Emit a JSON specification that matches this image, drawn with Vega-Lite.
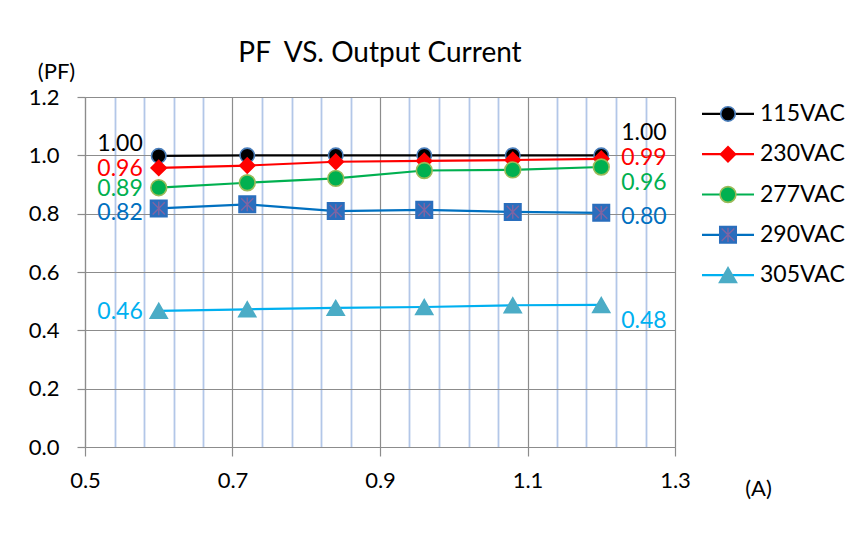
{
  "$schema": "https://vega.github.io/schema/vega-lite/v6.json",
  "background": "white",
  "padding": {"left": 28, "top": 40, "right": 2, "bottom": 20},
  "bounds": "flush",
  "spacing": 27,
  "config": {
    "view": {"stroke": null},
    "font": "Lato",
    "text": {"font": "Lato"}
  },
  "datasets": {
    "pf": [
      {"series": "115VAC", "x": 0.6, "pf": 0.998},
      {"series": "115VAC", "x": 0.72, "pf": 1.0},
      {"series": "115VAC", "x": 0.84, "pf": 1.0},
      {"series": "115VAC", "x": 0.96, "pf": 1.0},
      {"series": "115VAC", "x": 1.08, "pf": 1.0},
      {"series": "115VAC", "x": 1.2, "pf": 1.0},
      {"series": "230VAC", "x": 0.6, "pf": 0.957},
      {"series": "230VAC", "x": 0.72, "pf": 0.965},
      {"series": "230VAC", "x": 0.84, "pf": 0.978},
      {"series": "230VAC", "x": 0.96, "pf": 0.981},
      {"series": "230VAC", "x": 1.08, "pf": 0.984},
      {"series": "230VAC", "x": 1.2, "pf": 0.988},
      {"series": "277VAC", "x": 0.6, "pf": 0.889},
      {"series": "277VAC", "x": 0.72, "pf": 0.906},
      {"series": "277VAC", "x": 0.84, "pf": 0.921},
      {"series": "277VAC", "x": 0.96, "pf": 0.948},
      {"series": "277VAC", "x": 1.08, "pf": 0.95},
      {"series": "277VAC", "x": 1.2, "pf": 0.96},
      {"series": "290VAC", "x": 0.6, "pf": 0.818},
      {"series": "290VAC", "x": 0.72, "pf": 0.832},
      {"series": "290VAC", "x": 0.84, "pf": 0.809},
      {"series": "290VAC", "x": 0.96, "pf": 0.813},
      {"series": "290VAC", "x": 1.08, "pf": 0.806},
      {"series": "290VAC", "x": 1.2, "pf": 0.803},
      {"series": "305VAC", "x": 0.6, "pf": 0.467},
      {"series": "305VAC", "x": 0.72, "pf": 0.472},
      {"series": "305VAC", "x": 0.84, "pf": 0.477},
      {"series": "305VAC", "x": 0.96, "pf": 0.48},
      {"series": "305VAC", "x": 1.08, "pf": 0.486},
      {"series": "305VAC", "x": 1.2, "pf": 0.487}
    ],
    "labels": [
      {"series": "115VAC", "side": "left", "x": 0.6, "pf": 0.998, "text": "1.00"},
      {"series": "230VAC", "side": "left", "x": 0.6, "pf": 0.957, "text": "0.96"},
      {"series": "277VAC", "side": "left", "x": 0.6, "pf": 0.889, "text": "0.89"},
      {"series": "290VAC", "side": "left", "x": 0.6, "pf": 0.818, "text": "0.82"},
      {"series": "305VAC", "side": "left", "x": 0.6, "pf": 0.467, "text": "0.46"},
      {"series": "115VAC", "side": "right", "x": 1.2, "pf": 1.0, "text": "1.00"},
      {"series": "230VAC", "side": "right", "x": 1.2, "pf": 0.988, "text": "0.99"},
      {"series": "277VAC", "side": "right", "x": 1.2, "pf": 0.96, "text": "0.96"},
      {"series": "290VAC", "side": "right", "x": 1.2, "pf": 0.803, "text": "0.80"},
      {"series": "305VAC", "side": "right", "x": 1.2, "pf": 0.487, "text": "0.48"}
    ],
    "series": [
      {"series": "115VAC"},
      {"series": "230VAC"},
      {"series": "277VAC"},
      {"series": "290VAC"},
      {"series": "305VAC"}
    ]
  },
  "hconcat": [
    {
      "width": 590,
      "height": 350,
      "title": {"text": "PF\u00a0 VS. Output Current", "font": "Lato", "fontSize": 28, "fontWeight": "normal", "color": "#000000", "anchor": "middle", "frame": "group", "baseline": "alphabetic", "offset": -30},
      "data": {"name": "pf"},
      "encoding": {
        "x": {
          "field": "x", "type": "quantitative",
          "scale": {"domain": [0.5, 1.3], "nice": false, "zero": false},
          "axis": {
            "values": [0.5, 0.54, 0.58, 0.62, 0.66, 0.7, 0.74, 0.78, 0.82, 0.86, 0.9, 0.94, 0.98, 1.02, 1.06, 1.1, 1.14, 1.18, 1.22, 1.26, 1.3],
            "labelExpr": "abs((datum.value-0.1)*5 - round((datum.value-0.1)*5)) < 0.01 ? format(datum.value, '.1f') : ''",
            "gridColor": {"condition": {"test": "abs((datum.value-0.1)*5 - round((datum.value-0.1)*5)) < 0.01", "value": "#8c8c8c"}, "value": "#b3c7e8"},
            "gridWidth": {"condition": {"test": "abs((datum.value-0.1)*5 - round((datum.value-0.1)*5)) < 0.01", "value": 1.2}, "value": 1.8},
            "tickOpacity": {"condition": {"test": "abs((datum.value-0.1)*5 - round((datum.value-0.1)*5)) < 0.01", "value": 1}, "value": 0},
            "tickSize": 9, "tickColor": "#8c8c8c", "tickWidth": 1.2,
            "domainColor": "#8c8c8c", "domainWidth": 1.2,
            "labelFont": "Lato", "labelFontSize": 22, "labelColor": "#000000", "labelPadding": 14,
            "labelFlush": false, "labelOverlap": false, "labelBound": false,
            "title": "(A)", "titleX": 673, "titleY": 41, "titleAlign": "center", "titleBaseline": "middle",
            "titleFont": "Lato", "titleFontSize": 22, "titleFontWeight": "normal", "titleColor": "#000000"
          }
        },
        "y": {
          "field": "pf", "type": "quantitative",
          "scale": {"domain": [0, 1.2], "nice": false},
          "axis": {
            "values": [0, 0.2, 0.4, 0.6, 0.8, 1.0, 1.2], "format": ".1f",
            "gridColor": "#8c8c8c", "gridWidth": 1.2,
            "tickSize": 8, "tickColor": "#8c8c8c", "tickWidth": 1.2,
            "domainColor": "#8c8c8c", "domainWidth": 1.2,
            "labelFont": "Lato", "labelFontSize": 22, "labelColor": "#000000", "labelPadding": 18,
            "labelOverlap": false, "labelBound": false,
            "title": "(PF)", "titleAngle": 0, "titleX": -29, "titleY": -26, "titleAlign": "center", "titleBaseline": "middle",
            "titleFont": "Lato", "titleFontSize": 22, "titleFontWeight": "normal", "titleColor": "#000000"
          }
        }
      },
      "layer": [
        {
          "mark": {"type": "line", "strokeWidth": 2.2},
          "encoding": {
            "color": {"field": "series", "type": "nominal", "legend": null,
              "scale": {"domain": ["115VAC", "230VAC", "277VAC", "290VAC", "305VAC"], "range": ["#000000", "#ff0000", "#00b050", "#0070c0", "#00b0f0"]}}
          }
        },
        {
          "mark": {"type": "point", "filled": true, "opacity": 1, "strokeWidth": 1.6},
          "encoding": {
            "shape": {"field": "series", "type": "nominal", "legend": null,
              "scale": {"domain": ["115VAC", "230VAC", "277VAC", "290VAC", "305VAC"], "range": ["circle", "diamond", "circle", "square", "triangle-up"]}},
            "fill": {"field": "series", "type": "nominal", "legend": null,
              "scale": {"domain": ["115VAC", "230VAC", "277VAC", "290VAC", "305VAC"], "range": ["#000000", "#ff0000", "#00b050", "#2a6ebd", "#4bacc6"]}},
            "stroke": {"field": "series", "type": "nominal", "legend": null,
              "scale": {"domain": ["115VAC", "230VAC", "277VAC", "290VAC", "305VAC"], "range": ["#4a7ebb", "#ff0000", "#9bbb59", "#2a6ebd", "#4bacc6"]}},
            "size": {"field": "series", "type": "ordinal", "legend": null,
              "scale": {"domain": ["115VAC", "230VAC", "277VAC", "290VAC", "305VAC"], "range": [210, 290, 230, 230, 300]}}
          }
        },
        {
          "transform": [{"filter": "datum.series === '290VAC'"}],
          "mark": {"type": "point", "filled": false, "opacity": 1, "stroke": "#8064a2", "strokeWidth": 1.4, "size": 230,
            "shape": "M-0.8,-0.8L0.8,0.8M-0.8,0.8L0.8,-0.8M0,-0.9L0,0.9"}
        },
        {
          "data": {"name": "labels"},
          "transform": [{"filter": "datum.side === 'left' && datum.series === '115VAC'"}],
          "mark": {"type": "text", "align": "right", "baseline": "middle", "dx": -16, "dy": -12, "fontSize": 23, "font": "Lato"},
          "encoding": {"text": {"field": "text"}, "color": {"field": "series", "type": "nominal", "legend": null}}
        },
        {
          "data": {"name": "labels"},
          "transform": [{"filter": "datum.side === 'left' && (datum.series === '230VAC' || datum.series === '277VAC' || datum.series === '305VAC')"}],
          "mark": {"type": "text", "align": "right", "baseline": "middle", "dx": -16, "dy": 1.5, "fontSize": 23, "font": "Lato"},
          "encoding": {"text": {"field": "text"}, "color": {"field": "series", "type": "nominal", "legend": null}}
        },
        {
          "data": {"name": "labels"},
          "transform": [{"filter": "datum.side === 'left' && datum.series === '290VAC'"}],
          "mark": {"type": "text", "align": "right", "baseline": "middle", "dx": -16, "dy": 5, "fontSize": 23, "font": "Lato"},
          "encoding": {"text": {"field": "text"}, "color": {"field": "series", "type": "nominal", "legend": null}}
        },
        {
          "data": {"name": "labels"},
          "transform": [{"filter": "datum.side === 'right' && datum.series === '115VAC'"}],
          "mark": {"type": "text", "align": "left", "baseline": "middle", "dx": 20, "dy": -22, "fontSize": 23, "font": "Lato"},
          "encoding": {"text": {"field": "text"}, "color": {"field": "series", "type": "nominal", "legend": null}}
        },
        {
          "data": {"name": "labels"},
          "transform": [{"filter": "datum.side === 'right' && datum.series === '230VAC'"}],
          "mark": {"type": "text", "align": "left", "baseline": "middle", "dx": 20, "dy": -1, "fontSize": 23, "font": "Lato"},
          "encoding": {"text": {"field": "text"}, "color": {"field": "series", "type": "nominal", "legend": null}}
        },
        {
          "data": {"name": "labels"},
          "transform": [{"filter": "datum.side === 'right' && (datum.series === '277VAC' || datum.series === '305VAC')"}],
          "mark": {"type": "text", "align": "left", "baseline": "middle", "dx": 20, "dy": 16, "fontSize": 23, "font": "Lato"},
          "encoding": {"text": {"field": "text"}, "color": {"field": "series", "type": "nominal", "legend": null}}
        },
        {
          "data": {"name": "labels"},
          "transform": [{"filter": "datum.side === 'right' && datum.series === '290VAC'"}],
          "mark": {"type": "text", "align": "left", "baseline": "middle", "dx": 20, "dy": 4, "fontSize": 23, "font": "Lato"},
          "encoding": {"text": {"field": "text"}, "color": {"field": "series", "type": "nominal", "legend": null}}
        }
      ]
    },
    {
      "width": 52,
      "height": 195,
      "data": {"name": "series"},
      "encoding": {
        "y": {"field": "series", "type": "nominal", "axis": null,
          "scale": {"type": "point", "padding": 0.42, "domain": ["115VAC", "230VAC", "277VAC", "290VAC", "305VAC"]}}
      },
      "layer": [
        {
          "mark": {"type": "rule", "strokeWidth": 2.2},
          "encoding": {
            "x": {"datum": 0, "type": "quantitative", "scale": {"domain": [0, 1], "nice": false}, "axis": null},
            "x2": {"datum": 1},
            "color": {"field": "series", "type": "nominal", "legend": null,
              "scale": {"domain": ["115VAC", "230VAC", "277VAC", "290VAC", "305VAC"], "range": ["#000000", "#ff0000", "#00b050", "#0070c0", "#00b0f0"]}}
          }
        },
        {
          "mark": {"type": "point", "filled": true, "opacity": 1, "strokeWidth": 1.6},
          "encoding": {
            "x": {"datum": 0.5, "type": "quantitative"},
            "shape": {"field": "series", "type": "nominal", "legend": null,
              "scale": {"domain": ["115VAC", "230VAC", "277VAC", "290VAC", "305VAC"], "range": ["circle", "diamond", "circle", "square", "triangle-up"]}},
            "fill": {"field": "series", "type": "nominal", "legend": null,
              "scale": {"domain": ["115VAC", "230VAC", "277VAC", "290VAC", "305VAC"], "range": ["#000000", "#ff0000", "#00b050", "#2a6ebd", "#4bacc6"]}},
            "stroke": {"field": "series", "type": "nominal", "legend": null,
              "scale": {"domain": ["115VAC", "230VAC", "277VAC", "290VAC", "305VAC"], "range": ["#4a7ebb", "#ff0000", "#9bbb59", "#2a6ebd", "#4bacc6"]}},
            "size": {"field": "series", "type": "ordinal", "legend": null,
              "scale": {"domain": ["115VAC", "230VAC", "277VAC", "290VAC", "305VAC"], "range": [230, 290, 250, 250, 320]}}
          }
        },
        {
          "transform": [{"filter": "datum.series === '290VAC'"}],
          "mark": {"type": "point", "filled": false, "opacity": 1, "stroke": "#8064a2", "strokeWidth": 1.4, "size": 250,
            "shape": "M-0.8,-0.8L0.8,0.8M-0.8,0.8L0.8,-0.8M0,-0.9L0,0.9"},
          "encoding": {"x": {"datum": 0.5, "type": "quantitative"}}
        },
        {
          "mark": {"type": "text", "align": "left", "baseline": "middle", "dx": 6, "fontSize": 23, "font": "Lato", "color": "#000000"},
          "encoding": {"x": {"datum": 1, "type": "quantitative"}, "text": {"field": "series"}}
        }
      ]
    }
  ]
}
